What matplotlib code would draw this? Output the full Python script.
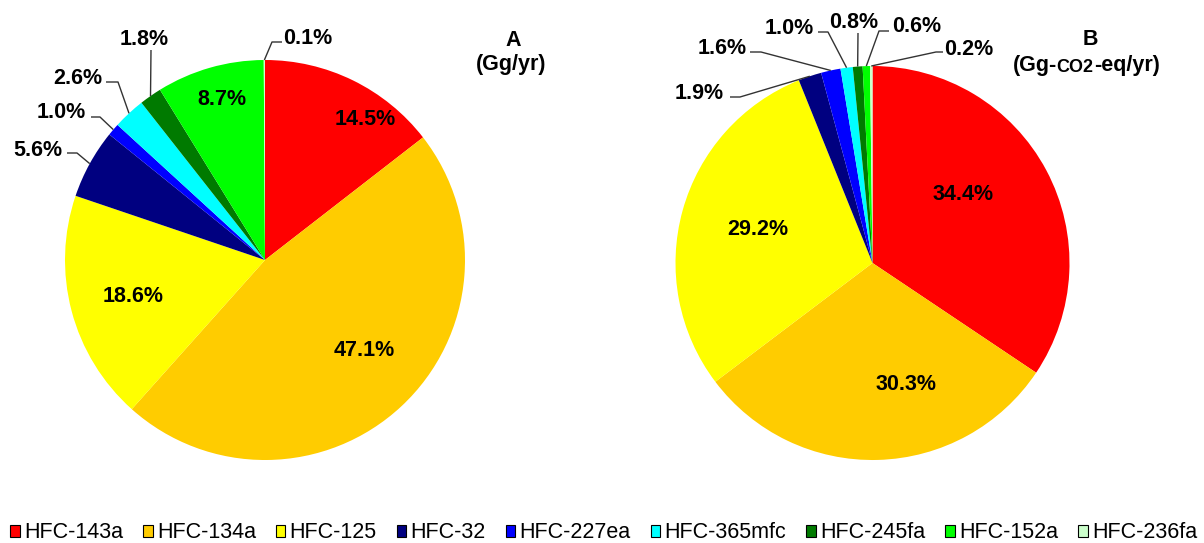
import matplotlib
matplotlib.use("Agg")
import numpy as np
import matplotlib.pyplot as plt
from matplotlib.patches import Patch
from matplotlib.offsetbox import TextArea, HPacker, AnnotationBbox

W, H = 1204, 543

species = ["HFC-143a", "HFC-134a", "HFC-125", "HFC-32", "HFC-227ea",
           "HFC-365mfc", "HFC-245fa", "HFC-152a", "HFC-236fa"]
colors = ["#FF0000", "#FFCC00", "#FFFF00", "#000080", "#0000FF",
          "#00FFFF", "#007A00", "#00FF00", "#CCFFCC"]
share_mass = [14.5, 47.1, 18.6, 5.6, 1.0, 2.6, 1.8, 8.7, 0.1]      # Gg/yr
share_co2eq = [34.4, 30.3, 29.2, 1.9, 1.6, 1.0, 0.8, 0.6, 0.2]     # Gg-CO2-eq/yr

plt.rcParams["font.family"] = ["Liberation Sans", "DejaVu Sans"]

LABEL_PT = 15.5
LINE_COLOR = "#333333"


def Y(y):
    """Convert a top-down pixel row into the axes' bottom-up coordinate."""
    return H - y


def put_label(ax, x, y, s, size=LABEL_PT, weight="bold", ha="center"):
    # (x, y) is the visual centre of the cap height, in top-down pixels
    px = size * 100 / 72
    ax.text(x, Y(y + 0.358 * px), s, fontsize=size, fontweight=weight,
            ha=ha, va="baseline", color="black")


def draw_pie(ax, values, center, radius, inside, outside):
    cx, cy = center
    wedges, _ = ax.pie(values, colors=colors, startangle=90, counterclock=False,
                       center=(cx, Y(cy)), radius=radius,
                       wedgeprops=dict(linewidth=0, antialiased=True))
    for i, pos in inside.items():
        put_label(ax, pos[0], pos[1], f"{values[i]:.1f}%")
    for i, (pos, elbow) in outside.items():
        w = wedges[i]
        mid = np.deg2rad((w.theta1 + w.theta2) / 2)
        ex = cx + radius * np.cos(mid)
        ey = Y(cy) + radius * np.sin(mid)
        xs = [p[0] for p in elbow] + [ex]
        ys = [Y(p[1]) for p in elbow] + [ey]
        ax.plot(xs, ys, color=LINE_COLOR, lw=1.0, solid_capstyle="butt")
        put_label(ax, pos[0], pos[1], f"{values[i]:.1f}%")
    return wedges


fig = plt.figure(figsize=(W / 100, H / 100), dpi=100)
ax = fig.add_axes([0, 0, 1, 1])

# Panel A: emissions by mass
inside_a = {0: (365, 117), 1: (364, 348), 2: (133, 294), 7: (222, 97)}
outside_a = {
    3: ((38, 148), [(67, 153), (77, 153)]),
    4: ((61, 110), [(91, 117), (100, 117)]),
    5: ((78, 76), [(106, 82), (118, 82)]),
    6: ((144, 37), [(151, 50)]),
    8: ((308, 36), [(282, 42), (272, 42)]),
}
draw_pie(ax, share_mass, (265, 260), 200, inside_a, outside_a)

# Panel B: emissions weighted by GWP
inside_b = {0: (963, 192), 1: (906, 382), 2: (758, 227)}
outside_b = {
    3: ((699, 91), [(730, 97), (740, 97)]),
    4: ((722, 46), [(750, 52), (761, 52)]),
    5: ((789, 26), [(818, 32), (828, 32)]),
    6: ((854, 20), [(858, 33)]),
    7: ((917, 24), [(889, 31), (879, 31)]),
    8: ((969, 47), [(943, 52), (936, 52)]),
}
draw_pie(ax, share_co2eq, (872.5, 263), 197, inside_b, outside_b)

# Panel titles
put_label(ax, 513, 38, "A")
put_label(ax, 511, 62, "(Gg/yr)")
put_label(ax, 1090, 37, "B")

unit_parts = [("(Gg-", LABEL_PT), ("CO2", 13), ("-eq/yr)", LABEL_PT)]
pieces = [TextArea(t, textprops=dict(fontsize=s, fontweight="bold", color="black"))
          for t, s in unit_parts]
packed = HPacker(children=pieces, align="baseline", pad=0, sep=0)
ab = AnnotationBbox(packed, (1086, Y(66)), xycoords="data", frameon=False,
                    box_alignment=(0.5, 0.5), pad=0)
ax.add_artist(ab)

ax.set_xlim(0, W)
ax.set_ylim(0, H)
ax.set_aspect("equal")
ax.axis("off")

handles = [Patch(facecolor=c, edgecolor="black", linewidth=0.8) for c in colors]
fig.legend(handles, species, loc="center", bbox_to_anchor=(603.5 / W, 1 - 533 / H),
           ncol=len(species), frameon=False, fontsize=15.5,
           handlelength=0.45, handleheight=0.45, handletextpad=0.2,
           columnspacing=0.92, borderpad=0, borderaxespad=0)

fig.savefig("out.png", dpi=100, facecolor="white")
